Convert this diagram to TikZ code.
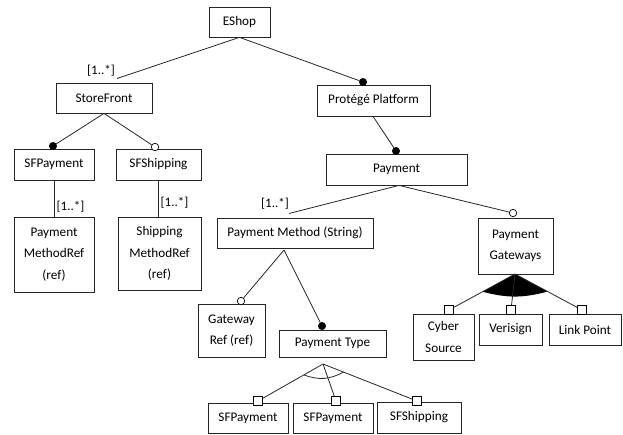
\documentclass[tikz,border=0pt]{standalone}
\usepackage{fontspec}
\setmainfont{Carlito}
\usetikzlibrary{calc}
\begin{document}
\begin{tikzpicture}[x=1pt,y=-1pt,
  font=\fontsize{13.2}{21.5}\selectfont,
  feat/.style={draw=black!85, line width=0.75pt, fill=white, align=center,
    inner sep=1pt},
  link/.style={draw=black!85, line width=0.8pt},
  mand/.style={circle, fill=black, draw=black, inner sep=0pt, minimum size=7.5pt},
  opt/.style={circle, fill=white, draw=black, line width=0.7pt, inner sep=0pt,
    minimum size=7.5pt},
  grp/.style={rectangle, fill=white, draw=black, line width=0.7pt, inner sep=0pt,
    minimum size=9pt},
  card/.style={inner sep=0pt, font=\fontsize{13}{14}\selectfont}]
\useasboundingbox (0,0) rectangle (623,434);

% features
\node[feat, minimum width=61pt, minimum height=30pt] (eshop) at (239.5,22) {EShop};
\node[feat, minimum width=96pt, minimum height=30pt] (store) at (104,98) {StoreFront};
\node[feat, minimum width=113pt, minimum height=31pt] (prot) at (373.5,100.5) {Protégé Platform};
\node[feat, minimum width=80pt, minimum height=31pt] (sfpay) at (54,164.5) {SFPayment};
\node[feat, minimum width=85pt, minimum height=31pt] (sfship) at (158.5,164.5) {SFShipping};
\node[feat, minimum width=80pt, minimum height=75pt] (pmref) at (54,254.5) {Payment\\MethodRef\\(ref)};
\node[feat, minimum width=83pt, minimum height=73pt] (smref) at (159.5,253.5) {Shipping\\MethodRef\\(ref)};
\node[feat, minimum width=141pt, minimum height=31pt] (pay) at (396.5,169.5) {Payment};
\node[feat, minimum width=156pt, minimum height=30pt] (pm) at (295,233) {Payment Method (String)};
\node[feat, minimum width=75pt, minimum height=56pt] (pg) at (515.5,246) {Payment\\Gateways};
\node[feat, minimum width=67pt, minimum height=53pt] (gref) at (231.5,330.5) {Gateway\\Ref (ref)};
\node[feat, minimum width=107pt, minimum height=27pt] (ptype) at (332.5,343.5) {Payment Type};
\node[feat, minimum width=61pt, minimum height=46pt] (cyber) at (443.5,337) {Cyber\\Source};
\node[feat, minimum width=63pt, minimum height=31pt] (veri) at (510.5,329.5) {Verisign};
\node[feat, minimum width=72pt, minimum height=31pt] (lpoint) at (585,329.5) {Link Point};
\node[feat, minimum width=80pt, minimum height=30pt] (sfpa) at (248,418) {SFPayment};
\node[feat, minimum width=80pt, minimum height=30pt] (sfpb) at (333,418) {SFPayment};
\node[feat, minimum width=84pt, minimum height=31pt] (sfsb) at (419,417.5) {SFShipping};

% branching points
\coordinate (pmtop) at (289,213.5);
\coordinate (sftop) at (117,78.5);
\coordinate (pmapex) at (284,250);
\coordinate (ptapex) at (323,364);
\coordinate (pgapex) at (515,274);

% relation ends
\node[mand] (mProt) at (363,82) {};
\node[mand] (mPay) at (396,151) {};
\node[mand] (mSfPay) at (53,146) {};
\node[opt] (oSfShip) at (155,147) {};
\node[opt] (oPg) at (513,213) {};
\node[opt] (oGref) at (241,301) {};
\node[mand] (mPtype) at (322,326) {};

% or-group area under Payment Gateways
\fill[black] (pgapex) -- ($(pgapex)!37pt!(449,310)$)
  to[bend right=15] ($(pgapex)!37pt!(582,310)$) -- cycle;
% alternative-group arc under Payment Type
\draw[link] ($(ptapex)!22pt!(258,401)$) to[bend right=25] ($(ptapex)!22pt!(417,401)$);

% connectors
\draw[link] (eshop.south) -- (sftop);
\draw[link] (eshop.south) -- (mProt);
\draw[link] (store.south) -- (mSfPay);
\draw[link] (store.south) -- (oSfShip);
\draw[link] (sfpay.south) -- (pmref.north);
\draw[link] (sfship.south) -- (sfship.south |- smref.north);
\draw[link] ($(prot.south)+(-0.5,0)$) -- (mPay);
\draw[link] ($(pay.south)+(2.5,0)$) -- (pmtop);
\draw[link] ($(pay.south)+(2.5,0)$) -- (oPg);
\draw[link] (pmapex) -- (oGref);
\draw[link] (pmapex) -- (mPtype);

% group members and their links
\node[grp] (gA) at (258,401) {};
\node[grp] (gB) at (336,401) {};
\node[grp] (gC) at (417,401) {};
\node[grp] (gD) at (449,310) {};
\node[grp] (gE) at (511,310) {};
\node[grp] (gF) at (582,310) {};
\draw[link] (ptapex) -- (gA);
\draw[link] (ptapex) -- (gB);
\draw[link] (ptapex) -- (gC);
\draw[link] (pgapex) -- (gD);
\draw[link] (pgapex) -- (gE);
\draw[link] (pgapex) -- (gF);

% cardinalities
\node[card] (c1) at (101,70.5) {[1..*]};
\node[card] (c2) at (70.5,207) {[1..*]};
\node[card] (c3) at (174.5,203) {[1..*]};
\node[card] (c4) at (275,203.5) {[1..*]};
\end{tikzpicture}
\end{document}
